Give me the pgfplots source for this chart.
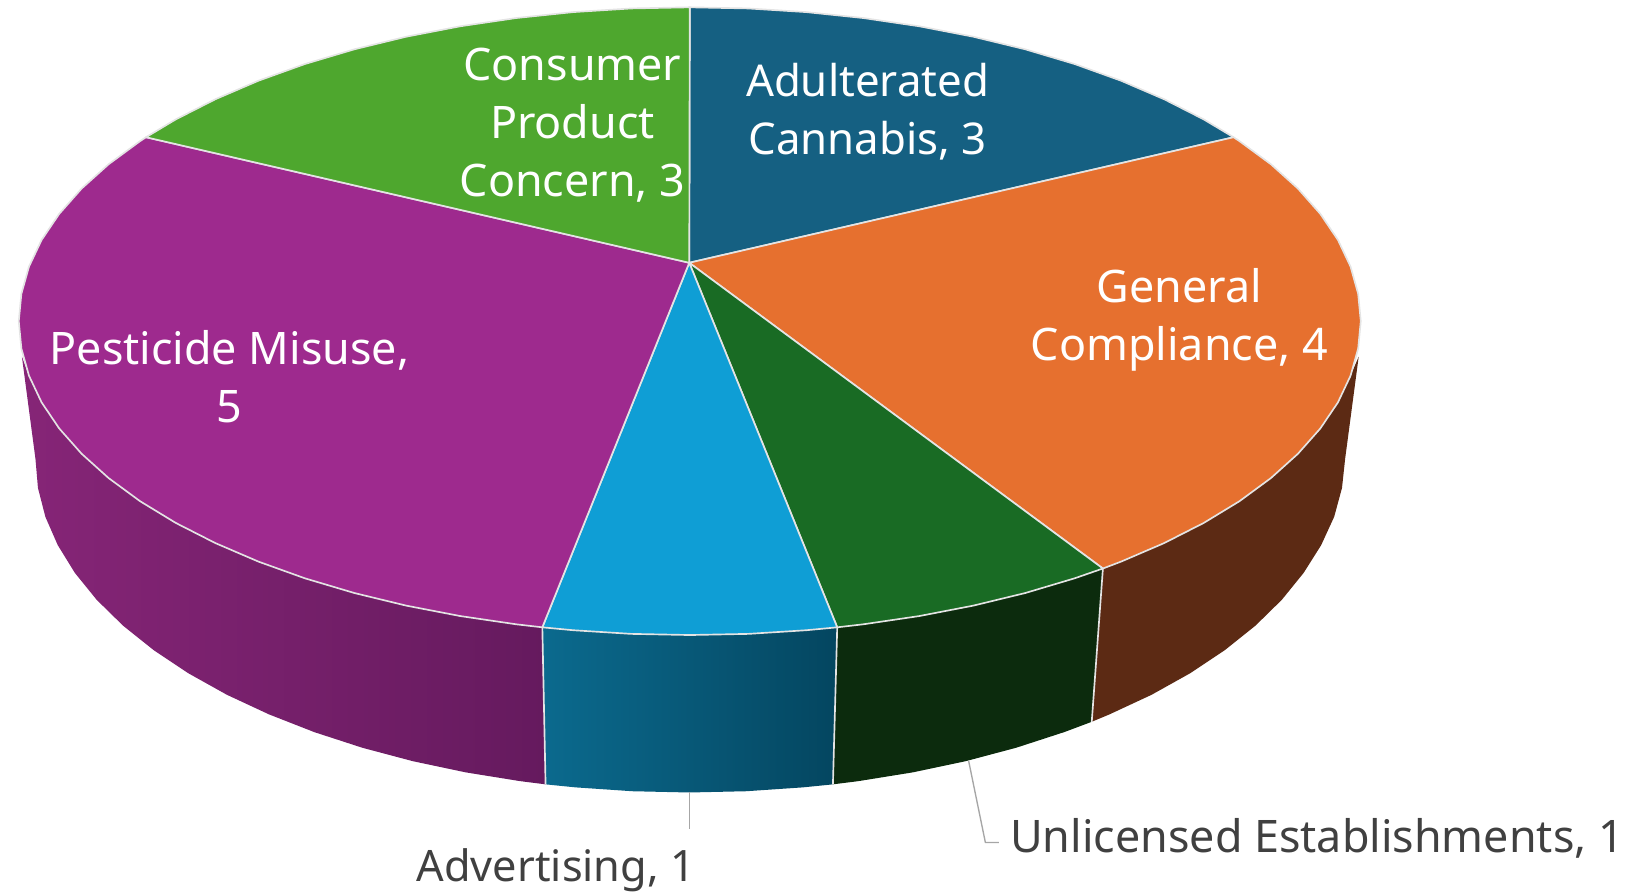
\documentclass[border=0pt]{standalone}
\usepackage{fontspec}
\setmainfont{Noto Sans}
\usepackage{pgfplots}
\pgfplotsset{compat=1.18}
\definecolor{cAdult}{HTML}{156082}
\definecolor{cGeneral}{HTML}{E6702F}
\definecolor{cUnlic}{HTML}{196B24}
\definecolor{cAdvert}{HTML}{0F9ED5}
\definecolor{cPest}{HTML}{9E2A8E}
\definecolor{cCons}{HTML}{4EA72E}
\definecolor{wallPestL}{HTML}{862577}
\definecolor{wallPestR}{HTML}{651A5E}
\definecolor{wallAdL}{HTML}{0B6A8E}
\definecolor{wallAdR}{HTML}{044660}
\definecolor{wallUnlic}{HTML}{0C2B0D}
\definecolor{wallGen}{HTML}{5C2A14}
\definecolor{rim}{HTML}{E4E4E4}
\definecolor{lead}{HTML}{A6A6A6}
\definecolor{labelgrey}{HTML}{404040}
\begin{document}
\begin{tikzpicture}
\begin{axis}[
    scale only axis, width=1568pt, height=857pt,
    xmin=0, xmax=1568, ymin=0, ymax=857, y dir=reverse,
    hide axis,
    every axis plot/.append style={line join=round},
]
% keeps the whole axis area in the bounding box
\addplot[draw=none] coordinates {(0,0) (1568,0) (1568,857) (0,857) (0,0)};
% side walls
\addplot[draw=none, left color=wallPestL, right color=wallPestR] coordinates {
(21,342) (27.8,360.3) (39.9,385.9) (56.8,410.9) (78.3,435.2) (104.2,458.5) (134.4,480.7) (168.6,501.5) (206.5,520.8) (247.9,538.6) (292.4,554.6) (339.8,568.7) (389.6,580.8) (441.4,590.8) (495,598.7) (520.1,601.6)
(523.2,752.2) (498.7,749.1) (446.6,740.7) (396,730) (347.5,717.1) (301.4,702.1) (258,685.1) (217.6,666.3) (180.7,645.7) (147.4,623.5) (118,600) (92.7,575.2) (71.8,549.4) (55.4,522.8) (43.5,495.6) (36.4,467.9) (34,440) (21,342)};
\addplot[draw=none, left color=wallAdL, right color=wallAdR] coordinates {
(520.1,601.6) (549.8,604.4) (605.4,607.9) (661.5,609) (717.6,607.9) (773.2,604.4) (802.9,601.6)
(798.8,752.2) (769.9,755.1) (715.6,758.8) (661,760) (606.4,758.8) (552.1,755.1) (523.2,752.2) (520.1,601.6)};
\addplot[draw=none, fill=wallUnlic] coordinates {
(802.9,601.6) (828,598.7) (881.6,590.8) (933.4,580.8) (983.3,568.7) (1030.6,554.6) (1057.7,545.2)
(1047,692.2) (1020.6,702.1) (974.5,717.1) (926,730) (875.4,740.7) (823.3,749.1) (798.8,752.2) (802.9,601.6)};
\addplot[draw=none, fill=wallGen] coordinates {
(1057.7,545.2) (1075.1,538.6) (1116.5,520.8) (1154.4,501.5) (1188.6,480.7) (1218.8,458.5) (1244.7,435.2) (1266.2,410.9) (1283.1,385.9) (1295.2,360.3) (1303,342)
(1290,440) (1287,467.9) (1279.5,495.6) (1267,522.8) (1250.2,549.4) (1229.3,575.2) (1204,600) (1174.6,623.5) (1141.3,645.7) (1104.4,666.3) (1064,685.1) (1047,692.2) (1057.7,545.2)};
% wall separators
\addplot[rim, line width=1.6pt] coordinates {(520.1,601.6) (523.2,752.2)};
\addplot[rim, line width=1.6pt] coordinates {(802.9,601.6) (798.8,752.2)};
\addplot[rim, line width=1.6pt] coordinates {(1057.7,545.2) (1047,692.2)};
% top slices: 3 Adulterated, 4 General, 1 Unlicensed, 1 Advertising, 5 Pesticide, 3 Consumer
\addplot[fill=cAdult, draw=rim, line width=1.6pt] coordinates {
(661,252) (661.5,7) (717.6,8.1) (773.2,11.6) (828,17.3) (881.6,25.2) (933.4,35.2) (983.3,47.3) (1030.6,61.4) (1075.1,77.4) (1116.5,95.2) (1154.4,114.5) (1183,131.6) (661,252)};
\addplot[fill=cGeneral, draw=rim, line width=1.6pt] coordinates {
(661,252) (1183,131.6) (1188.6,135.3) (1218.8,157.5) (1244.7,180.8) (1266.2,205.1) (1283.1,230.1) (1295.2,255.7) (1302.5,281.8) (1305,308) (1302.5,334.2) (1295.2,360.3) (1283.1,385.9) (1266.2,410.9) (1244.7,435.2) (1218.8,458.5) (1188.6,480.7) (1154.4,501.5) (1116.5,520.8) (1075.1,538.6) (1057.7,545.2) (661,252)};
\addplot[fill=cUnlic, draw=rim, line width=1.6pt] coordinates {
(661,252) (1057.7,545.2) (1030.6,554.6) (983.3,568.7) (933.4,580.8) (881.6,590.8) (828,598.7) (802.9,601.6) (661,252)};
\addplot[fill=cAdvert, draw=rim, line width=1.6pt] coordinates {
(661,252) (802.9,601.6) (773.2,604.4) (717.6,607.9) (661.5,609) (605.4,607.9) (549.8,604.4) (520.1,601.6) (661,252)};
\addplot[fill=cPest, draw=rim, line width=1.6pt] coordinates {
(661,252) (520.1,601.6) (495,598.7) (441.4,590.8) (389.6,580.8) (339.8,568.7) (292.4,554.6) (247.9,538.6) (206.5,520.8) (168.6,501.5) (134.4,480.7) (104.2,458.5) (78.3,435.2) (56.8,410.9) (39.9,385.9) (27.8,360.3) (20.5,334.2) (18,308) (20.5,281.8) (27.8,255.7) (39.9,230.1) (56.8,205.1) (78.3,180.8) (104.2,157.5) (134.4,135.3) (140,131.6) (661,252)};
\addplot[fill=cCons, draw=rim, line width=1.6pt] coordinates {
(661,252) (140,131.6) (168.6,114.5) (206.5,95.2) (247.9,77.4) (292.4,61.4) (339.8,47.3) (389.6,35.2) (441.4,25.2) (495,17.3) (549.8,11.6) (605.4,8.1) (661.5,7) (661,252)};
% leader lines
\addplot[lead, line width=1.3pt] coordinates {(661,760) (661,795)};
\addplot[lead, line width=1.3pt] coordinates {(929,730) (945,808) (958,808)};
% labels
\node[white, align=center, font=\fontsize{43}{55.5}\selectfont] at (axis cs:549,120) {Consumer\\Product\\Concern, 3};
\node[white, align=center, font=\fontsize{42}{55.5}\selectfont] at (axis cs:832,107) {Adulterated\\Cannabis, 3};
\node[white, align=center, font=\fontsize{43}{55.5}\selectfont] at (axis cs:1131,307) {General\\Compliance, 4};
\node[white, align=center, font=\fontsize{43}{55.5}\selectfont] at (axis cs:220,361) {Pesticide Misuse,\\5};
\node[labelgrey, font=\fontsize{41.5}{55.5}\selectfont] at (axis cs:533,835) {Advertising, 1};
\node[labelgrey, font=\fontsize{43}{55.5}\selectfont] at (axis cs:1263,804) {Unlicensed Establishments, 1};
\end{axis}
\end{tikzpicture}
\end{document}
